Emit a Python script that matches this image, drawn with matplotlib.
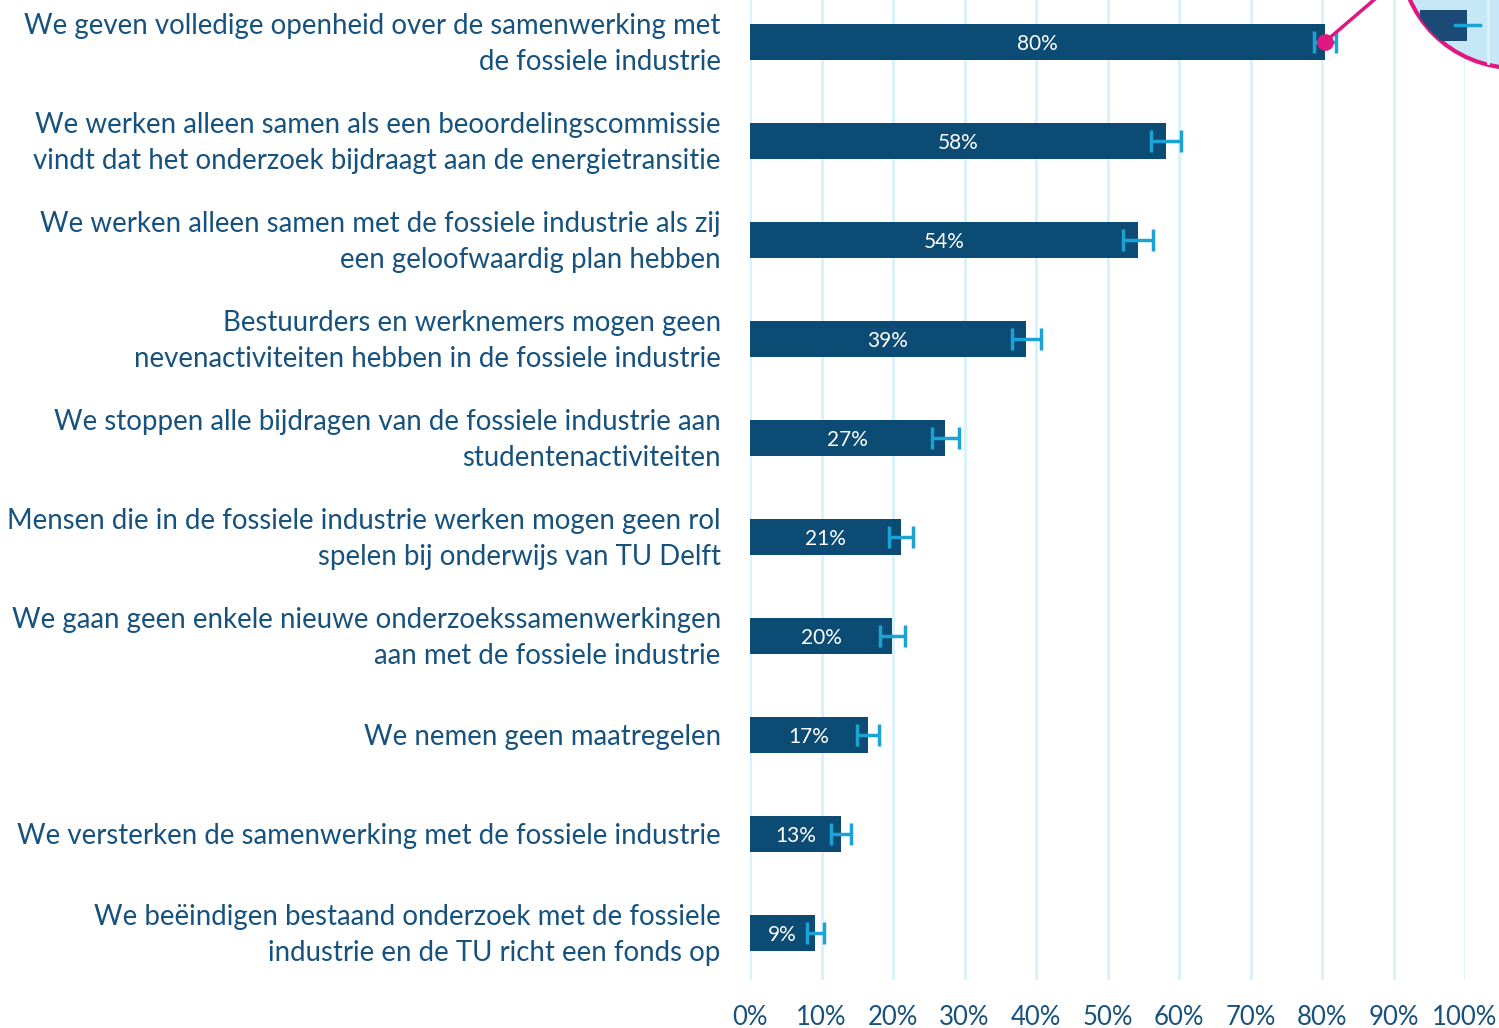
import numpy as np
import matplotlib.pyplot as plt
from matplotlib.patches import Circle, Rectangle
from matplotlib.lines import Line2D
from matplotlib.transforms import ScaledTranslation

labels = [
    "We geven volledige openheid over de samenwerking met\nde fossiele industrie",
    "We werken alleen samen als een beoordelingscommissie\nvindt dat het onderzoek bijdraagt aan de energietransitie",
    "We werken alleen samen met de fossiele industrie als zij\neen geloofwaardig plan hebben",
    "Bestuurders en werknemers mogen geen\nnevenactiviteiten hebben in de fossiele industrie",
    "We stoppen alle bijdragen van de fossiele industrie aan\nstudentenactiviteiten",
    "Mensen die in de fossiele industrie werken mogen geen rol\nspelen bij onderwijs van TU Delft",
    "We gaan geen enkele nieuwe onderzoekssamenwerkingen\naan met de fossiele industrie",
    "We nemen geen maatregelen",
    "We versterken de samenwerking met de fossiele industrie",
    "We beëindigen bestaand onderzoek met de fossiele\nindustrie en de TU richt een fonds op",
]
values = [80.4, 58.2, 54.3, 38.6, 27.3, 21.1, 19.9, 16.5, 12.7, 9.1]
err_low = [78.9, 56.1, 52.2, 36.6, 25.5, 19.4, 18.2, 15.0, 11.3, 8.0]
err_high = [82.0, 60.3, 56.4, 40.7, 29.2, 22.8, 21.7, 18.0, 14.1, 10.3]
bar_text = ["80%", "58%", "54%", "39%", "27%", "21%", "20%", "17%", "13%", "9%"]
xticks = [0, 10, 20, 30, 40, 50, 60, 70, 80, 90, 100]

BAR = "#0c4b74"
TXT = "#17527f"
ERR = "#1ba3d6"
GRID = "#d8f1fb"
PINK = "#e0177f"

plt.rcParams['font.family'] = ['Lato', 'DejaVu Sans']

W, H = 1499, 1028
fig = plt.figure(figsize=(W / 100, H / 100), dpi=100)
ax = fig.add_axes([750 / W, 1 - 980 / H, 715 / W, 980 / H])

y = np.arange(len(values))
ax.barh(y, values, height=0.355, color=BAR, zorder=2)
lo = np.array(values) - np.array(err_low)
hi = np.array(err_high) - np.array(values)
ax.errorbar(values, y, xerr=[lo, hi], fmt="none", ecolor=ERR,
            elinewidth=2.5, capsize=8, capthick=2.5, zorder=3)
for yi, v, t in zip(y, values, bar_text):
    ax.text(v / 2, yi, t, ha="center", va="center_baseline", color="white",
            fontsize=15, zorder=4)

ax.set_xlim(0, 100)
ax.set_ylim(9.475, -0.424)
ax.set_xticks(xticks)
ax.set_xticklabels([f"{t}%" for t in xticks], color=TXT, fontsize=18.5)
ax.set_yticks(y)
ax.set_yticklabels(labels, color=TXT, fontsize=19.9, linespacing=1.5)
ax.tick_params(axis="both", length=0)
ax.tick_params(axis="x", pad=18)
ax.tick_params(axis="y", pad=21)
for s in ax.spines.values():
    s.set_visible(False)
ax.grid(axis="x", color=GRID, linewidth=2, zorder=0)
ax.set_axisbelow(True)

# two-line labels sit a bit high in the original
shift = ScaledTranslation(0, 0.055, fig.dpi_scale_trans)
for lbl in ax.get_yticklabels():
    if "\n" in lbl.get_text():
        lbl.set_transform(lbl.get_transform() + shift)

# highlight dot on the first bar with a line to the magnifier
ax.plot([values[0]], [0], "o", color=PINK, markersize=11, zorder=5, clip_on=False)

ov = fig.add_axes([0, 0, 1, 1], zorder=10)
ov.set_xlim(0, W)
ov.set_ylim(H, 0)
ov.axis("off")
ov.patch.set_alpha(0)
dx, dy = ax.transData.transform((values[0], 0))
dy = H - dy
ov.add_line(Line2D([dx, dx + 70], [dy, dy - 60], color=PINK, linewidth=2.5))
circ = Circle((1515, -47), 115, facecolor="#c6e8f6", edgecolor=PINK, linewidth=3)
ov.add_patch(circ)
r1 = Rectangle((1420, 10), 47, 31, facecolor="#1b4a76")
ov.add_patch(r1)
r1.set_clip_path(circ)
l1 = Line2D([1455, 1480], [25, 25], color=ERR, linewidth=2.5)
ov.add_line(l1)
l2 = Line2D([1488, 1488], [0, 70], color="#dcf2fb", linewidth=2)
ov.add_line(l2)
l2.set_clip_path(circ)

fig.savefig("out.png", dpi=100)
